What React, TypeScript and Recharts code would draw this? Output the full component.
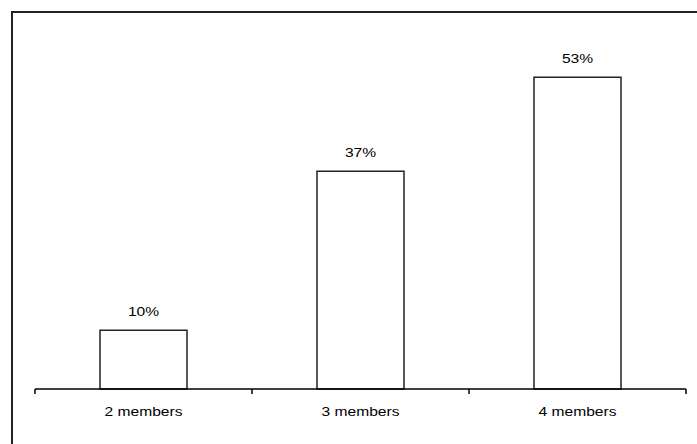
import { BarChart, Bar, XAxis, YAxis, LabelList } from 'recharts';

const categories = ['2 members', '3 members', '4 members'];
const shares = [10, 37, 53];

const data = categories.map((name, i) => ({ name, share: shares[i] }));

const font = '"Liberation Sans", Arial, sans-serif';

// label under each category, plus small tick marks on the band edges
function CategoryTick({ x, y, payload, visibleTicksCount }: any) {
  const half = Number(payload.offset) || 0;
  const last = payload.index === visibleTicksCount - 1;
  return (
    <g transform={`translate(${x},${y})`}>
      <line x1={-half} x2={-half} y1={0} y2={5} stroke="#000" strokeWidth={1.5} />
      {last && <line x1={half} x2={half} y1={0} y2={5} stroke="#000" strokeWidth={1.5} />}
      <text
        transform="scale(1.2,1)"
        y={27}
        textAnchor="middle"
        fontSize={13}
        fontFamily={font}
        fill="#000"
      >
        {payload.value}
      </text>
    </g>
  );
}

function ShareLabel({ x, y, width, value }: any) {
  const cx = Number(x) + Number(width) / 2;
  return (
    <g transform={`translate(${cx},${Number(y) - 14})`}>
      <text transform="scale(1.2,1)" textAnchor="middle" fontSize={13} fontFamily={font} fill="#000">
        {value}%
      </text>
    </g>
  );
}

export default function App() {
  return (
    <div style={{ position: 'absolute', left: 0, top: 0, width: 697, height: 444, background: '#fff' }}>
      <div
        style={{
          position: 'absolute',
          left: 11,
          top: 11,
          width: 697 - 11,
          height: 444 - 11,
          borderTop: '2px solid #222',
          borderLeft: '2px solid #222',
          boxSizing: 'border-box',
        }}
      />
      <BarChart
        width={697}
        height={444}
        data={data}
        margin={{ top: 36, right: 11, left: 35, bottom: 25 }}
        style={{ position: 'absolute', left: 0, top: 0 }}
      >
        <XAxis
          dataKey="name"
          stroke="#000"
          strokeWidth={1.5}
          tickLine={false}
          tickSize={0}
          tickMargin={0}
          height={30}
          tick={<CategoryTick />}
          interval={0}
        />
        <YAxis hide domain={[0, 60]} />
        <Bar dataKey="share" barSize={87} fill="#fff" stroke="#222" strokeWidth={1.5} isAnimationActive={false}>
          <LabelList dataKey="share" content={<ShareLabel />} />
        </Bar>
      </BarChart>
    </div>
  );
}
